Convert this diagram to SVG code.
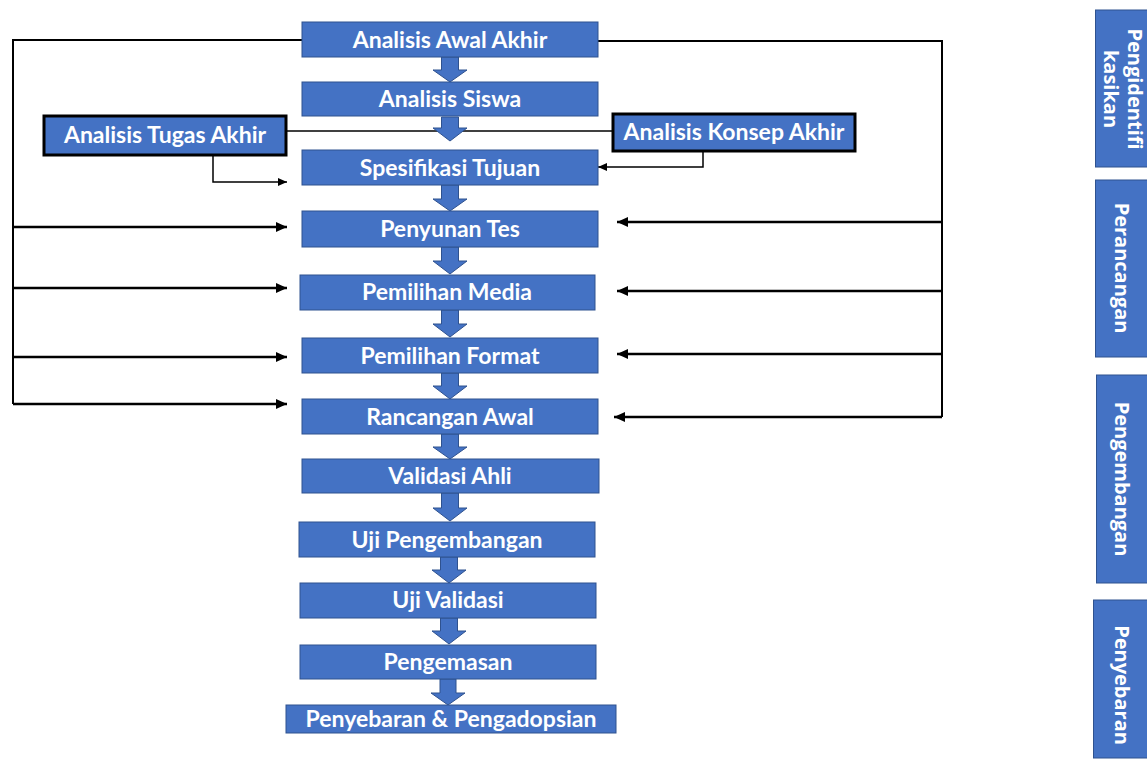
<svg xmlns="http://www.w3.org/2000/svg" width="1147" height="760" viewBox="0 0 1147 760">
<style>
.box{fill:#4472C4;stroke:#2F528F;stroke-width:1}
.bbox{fill:#4472C4;stroke:#000;stroke-width:3}
.t{fill:#fff;font-family:Lato,"Open Sans",sans-serif;font-weight:bold;font-size:23px;text-anchor:middle}
.vt{fill:#fff;font-family:"Open Sans",sans-serif;font-weight:bold;font-size:20px;text-anchor:middle}
.blk{fill:#4472C4;stroke:#2F528F;stroke-width:1}
.ln{fill:none;stroke:#000;stroke-width:2}
.arr{fill:none;stroke:#000;stroke-width:2.5;marker-end:url(#ah)}
.thin{fill:none;stroke:#000;stroke-width:1.5}
.tarr{fill:none;stroke:#000;stroke-width:1.5;marker-end:url(#ahs)}
</style>
<defs>
<marker id="ah" markerUnits="userSpaceOnUse" markerWidth="12" markerHeight="10" refX="11" refY="5" orient="auto"><path d="M0,0 L11,5 L0,10 Z" fill="#000"/></marker>
<marker id="ahs" markerUnits="userSpaceOnUse" markerWidth="10" markerHeight="8" refX="9" refY="4" orient="auto"><path d="M0,0 L9,4 L0,8 Z" fill="#000"/></marker>
</defs>
<rect width="1147" height="760" fill="#fff"/>
<g id="connectors">
<polyline class="ln" points="302,40 13,40 13,404"/>
<polyline class="ln" points="598,41 942,41 942,417"/>
<line class="arr" x1="13" y1="227" x2="287" y2="227"/>
<line class="arr" x1="13" y1="288" x2="287" y2="288"/>
<line class="arr" x1="13" y1="357" x2="287" y2="357"/>
<line class="arr" x1="13" y1="404" x2="287" y2="404"/>
<line class="arr" x1="942" y1="222" x2="617" y2="222"/>
<line class="arr" x1="942" y1="291" x2="617" y2="291"/>
<line class="arr" x1="942" y1="354" x2="617" y2="354"/>
<line class="arr" x1="942" y1="417" x2="614" y2="417"/>
<line class="thin" x1="286" y1="131" x2="612" y2="131"/>
<polyline class="tarr" points="213,155 213,182 287,182"/>
<polyline class="tarr" points="703,151 703,167 598,167"/>
<path class="blk" d="M441.5,57 H458.5 V70 H467 L450,82 L433,70 H441.5 Z"/>
<path class="blk" d="M441.5,117 H458.5 V128 H467 L450,141 L433,128 H441.5 Z"/>
<path class="blk" d="M441.5,185 H458.5 V199 H467 L450,211 L433,199 H441.5 Z"/>
<path class="blk" d="M441.5,247 H458.5 V261 H467 L450,274 L433,261 H441.5 Z"/>
<path class="blk" d="M441.5,310 H458.5 V324 H467 L450,337 L433,324 H441.5 Z"/>
<path class="blk" d="M441.5,373 H458.5 V386 H467 L450,399 L433,386 H441.5 Z"/>
<path class="blk" d="M441.5,434 H458.5 V447 H467 L450,459 L433,447 H441.5 Z"/>
<path class="blk" d="M441.5,493 H458.5 V508 H467 L450,521 L433,508 H441.5 Z"/>
<path class="blk" d="M440.5,557 H457.5 V570 H466 L449,583 L432,570 H440.5 Z"/>
<path class="blk" d="M440.5,618 H457.5 V631 H466 L449,644 L432,631 H440.5 Z"/>
<path class="blk" d="M440,679 H456 V693 H465 L448,705 L431,693 H440 Z"/>
</g>
<g id="n1"><rect class="box" x="302" y="22" width="296" height="35"/><text class="t" x="450" y="48">Analisis Awal Akhir</text></g>
<g id="n2"><rect class="box" x="302" y="82" width="296" height="34"/><text class="t" x="450" y="107">Analisis Siswa</text></g>
<g id="n3"><rect class="box" x="302" y="150" width="296" height="35"/><text class="t" x="450" y="176">Spesifikasi Tujuan</text></g>
<g id="n4"><rect class="box" x="302" y="211" width="296" height="36"/><text class="t" x="450" y="237">Penyunan Tes</text></g>
<g id="n5"><rect class="box" x="300" y="275" width="295" height="35"/><text class="t" x="447" y="300">Pemilihan Media</text></g>
<g id="n6"><rect class="box" x="302" y="338" width="296" height="35"/><text class="t" x="450" y="364">Pemilihan Format</text></g>
<g id="n7"><rect class="box" x="302" y="399" width="296" height="35"/><text class="t" x="450" y="425">Rancangan Awal</text></g>
<g id="n8"><rect class="box" x="302" y="459" width="297" height="34"/><text class="t" x="450" y="484">Validasi Ahli</text></g>
<g id="n9"><rect class="box" x="299" y="522" width="296" height="35"/><text class="t" x="447" y="548">Uji Pengembangan</text></g>
<g id="n10"><rect class="box" x="300" y="583" width="296" height="35"/><text class="t" x="448" y="608">Uji Validasi</text></g>
<g id="n11"><rect class="box" x="300" y="645" width="296" height="34"/><text class="t" x="448" y="670">Pengemasan</text></g>
<g id="n12"><rect class="box" x="286" y="705" width="330" height="28"/><text class="t" x="451" y="727">Penyebaran &amp; Pengadopsian</text></g>
<g id="tugas"><rect class="bbox" x="44" y="116" width="242" height="39"/><text class="t" x="165" y="143">Analisis Tugas Akhir</text></g>
<g id="konsep"><rect class="bbox" x="613" y="114" width="242" height="37"/><text class="t" x="734" y="140">Analisis Konsep Akhir</text></g>
<g id="p1"><rect class="box" x="1095.5" y="10" width="60" height="157"/><text class="vt" transform="translate(1128,89) rotate(90)"><tspan x="0" y="0">Pengidentifi</tspan><tspan x="0" y="24">kasikan</tspan></text></g>
<g id="p2"><rect class="box" x="1095.5" y="180" width="60" height="177"/><text class="vt" transform="translate(1115,268) rotate(90)">Perancangan</text></g>
<g id="p3"><rect class="box" x="1096.5" y="375" width="60" height="208"/><text class="vt" transform="translate(1115,479) rotate(90)">Pengembangan</text></g>
<g id="p4"><rect class="box" x="1093.5" y="600" width="60" height="158"/><text class="vt" transform="translate(1115,685) rotate(90)">Penyebaran</text></g>
</svg>
